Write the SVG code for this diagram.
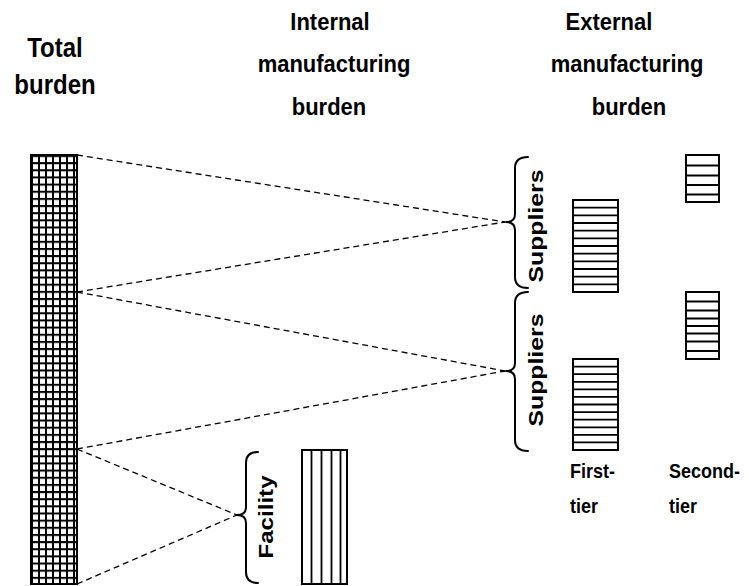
<svg xmlns="http://www.w3.org/2000/svg" width="749" height="586" viewBox="0 0 749 586">
  <style>
    .hdr { font-family: "Liberation Sans", Arial, sans-serif; font-weight: bold; font-size: 22px; fill: #000; text-anchor: middle; }
    .hdr-big { font-size: 24px; }
    .tier { font-family: "Liberation Sans", Arial, sans-serif; font-weight: bold; font-size: 18px; fill: #000; }
    .side { font-family: "Liberation Sans", Arial, sans-serif; font-weight: bold; font-size: 21px; fill: #000; text-anchor: middle; }
    .bar { fill: #fff; stroke: #000; stroke-width: 2; }
    .rule { stroke: #000; stroke-width: 1.8; fill: none; }
    .brace { stroke: #000; stroke-width: 2; fill: none; stroke-linecap: round; stroke-linejoin: round; }
    .dash { stroke: #000; stroke-width: 1.3; fill: none; stroke-dasharray: 6 4; }
  </style>
  <defs>
    <pattern id="grid" patternUnits="userSpaceOnUse" x="31" y="155" width="7" height="7.15">
      <rect width="7" height="7.15" fill="#fff"/>
      <path d="M0 1 H7 M1 0 V7.15" stroke="#000" stroke-width="2"/>
    </pattern>
  </defs>

  <rect width="749" height="586" fill="#fff"/>

  <!-- column headings (glyphs drawn slightly tall) -->
  <g id="headings">
    <text class="hdr hdr-big" transform="translate(55 57) scale(1 1.12)">Total</text>
    <text class="hdr hdr-big" transform="translate(55 94) scale(1 1.12)">burden</text>
    <text class="hdr" transform="translate(330 30) scale(1 1.12)">Internal</text>
    <text class="hdr" transform="translate(334 72) scale(1 1.12)">manufacturing</text>
    <text class="hdr" transform="translate(329 115) scale(1 1.12)">burden</text>
    <text class="hdr" transform="translate(609 30) scale(1 1.12)">External</text>
    <text class="hdr" transform="translate(627 72) scale(1 1.12)">manufacturing</text>
    <text class="hdr" transform="translate(629 115) scale(1 1.12)">burden</text>
  </g>

  <!-- connectors -->
  <g id="connectors">
    <line class="dash" x1="77" y1="155" x2="505" y2="222"/>
    <line class="dash" x1="77" y1="292" x2="505" y2="222"/>
    <line class="dash" x1="77" y1="292" x2="505" y2="371"/>
    <line class="dash" x1="77" y1="449" x2="505" y2="371"/>
    <line class="dash" x1="77" y1="449" x2="237" y2="515"/>
    <line class="dash" x1="77" y1="584" x2="237" y2="515"/>
  </g>

  <!-- total burden column -->
  <g id="total-bar">
    <rect x="31" y="155" width="46" height="429" fill="url(#grid)"/>
    <rect x="31" y="155" width="46" height="429" fill="none" stroke="#000" stroke-width="2"/>
  </g>

  <!-- upper supplier group -->
  <g id="suppliers-upper">
    <path class="brace" d="M528 157 Q515 157 515 168 L515 214 Q515 222 506 222 Q515 222 515 230 L515 277 Q515 288 528 288"/>
    <text class="side" transform="translate(543 226) rotate(-90) scale(1.18 1)">Suppliers</text>
  </g>

  <!-- lower supplier group -->
  <g id="suppliers-lower">
    <path class="brace" d="M528 292 Q515 292 515 303 L515 363 Q515 371 506 371 Q515 371 515 379 L515 440 Q515 451 528 451"/>
    <text class="side" transform="translate(543 370) rotate(-90) scale(1.18 1)">Suppliers</text>
  </g>

  <!-- facility group -->
  <g id="facility">
    <path class="brace" d="M258 452 Q246 452 246 463 L246 507 Q246 515 237 515 Q246 515 246 523 L246 572 Q246 583 258 583"/>
    <text class="side" transform="translate(273 517) rotate(-90) scale(1.15 1)">Facility</text>
    <rect class="bar" x="302" y="450" width="45" height="134"/>
    <path class="rule" d="M311.5 450 V584 M321.5 450 V584 M331.5 450 V584 M340.5 450 V584"/>
  </g>

  <!-- first-tier supplier burden, upper -->
  <g id="first-tier-upper">
    <rect class="bar" x="573" y="200" width="45" height="92"/>
    <path class="rule" d="M573 207.7 H618 M573 215.3 H618 M573 223 H618 M573 230.7 H618 M573 238.3 H618 M573 246 H618 M573 253.7 H618 M573 261.3 H618 M573 269 H618 M573 276.7 H618 M573 284.3 H618"/>
  </g>

  <!-- first-tier supplier burden, lower -->
  <g id="first-tier-lower">
    <rect class="bar" x="573" y="359" width="45" height="91"/>
    <path class="rule" d="M573 366.6 H618 M573 374.2 H618 M573 381.8 H618 M573 389.3 H618 M573 396.9 H618 M573 404.5 H618 M573 412.1 H618 M573 419.7 H618 M573 427.3 H618 M573 434.8 H618 M573 442.4 H618"/>
  </g>

  <!-- second-tier supplier burden, upper -->
  <g id="second-tier-upper">
    <rect class="bar" x="686" y="155" width="33" height="47"/>
    <path class="rule" d="M686 165.5 H719 M686 175.5 H719 M686 185 H719 M686 194.5 H719"/>
  </g>

  <!-- second-tier supplier burden, lower -->
  <g id="second-tier-lower">
    <rect class="bar" x="686" y="292" width="33" height="67"/>
    <path class="rule" d="M686 301.5 H719 M686 310.5 H719 M686 318.5 H719 M686 326 H719 M686 333.5 H719 M686 341.5 H719 M686 351 H719"/>
  </g>

  <!-- tier labels -->
  <g id="tier-labels">
    <text class="tier" transform="translate(570 478) scale(1 1.08)">First-</text>
    <text class="tier" transform="translate(570 513) scale(1 1.08)">tier</text>
    <text class="tier" transform="translate(669 478) scale(1 1.08)">Second-</text>
    <text class="tier" transform="translate(669 513) scale(1 1.08)">tier</text>
  </g>
</svg>
